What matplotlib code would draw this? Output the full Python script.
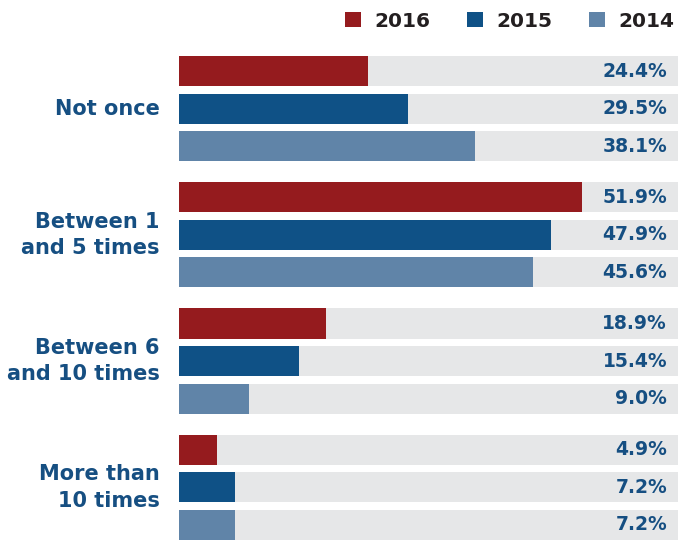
import numpy as np
import matplotlib.pyplot as plt
from matplotlib.patches import Patch

# ── DATA ────────────────────────────────────────────────────────────────────
categories = ["Not once", "Between 1\nand 5 times", "Between 6\nand 10 times", "More than\n10 times"]
years = ["2016", "2015", "2014"]
vals_2016 = [24.4, 51.9, 18.9, 4.9]
vals_2015 = [29.5, 47.9, 15.4, 7.2]
vals_2014 = [38.1, 45.6, 9.0, 7.2]

# ── STYLE ───────────────────────────────────────────────────────────────────
colors = ["#951B1E", "#0F5186", "#6084A8"]
grey = "#E6E7E8"
label_blue = "#164F82"
plt.rcParams['font.family'] = ['DejaVu Sans']

group_step = 3.36
bar_h = 0.8
x_full = 64.3

fig = plt.figure(figsize=(6.78, 5.41), dpi=100)
ax = fig.add_axes([179 / 678, 0.002, 1 - 179 / 678, 0.8945])

series = [vals_2016, vals_2015, vals_2014]
for g, cat in enumerate(categories):
    base = g * group_step
    for k, vals in enumerate(series):
        y = base + k
        ax.barh(y, x_full, height=bar_h, color=grey, zorder=1)
        ax.barh(y, vals[g], height=bar_h, color=colors[k], zorder=2)
        ax.text(x_full - 1.4, y + 0.0, f"{vals[g]:.1f}%", ha='right', va='center',
                fontsize=13.5, fontweight='bold', color=label_blue, zorder=3)
    ax.text(-2.5, base + 1.0, cat, ha='right', va='center', fontsize=15,
            fontweight='bold', color=label_blue, linespacing=1.4)

ax.set_xlim(0, x_full)
ax.set_ylim(3 * group_step + 2 + bar_h / 2, -bar_h / 2)
ax.axis('off')

handles = [Patch(facecolor=c, edgecolor='none', label=y) for c, y in zip(colors, years)]
leg = fig.legend(handles=handles, loc='upper right', bbox_to_anchor=(1.021, 1.012), ncol=3,
                 frameon=False, handlelength=0.78, handleheight=0.78, handletextpad=0.65,
                 columnspacing=1.85, prop={'weight': 'bold', 'size': 14.5})
for t in leg.get_texts():
    t.set_color("#231F20")

plt.savefig('out.png', dpi=100)
